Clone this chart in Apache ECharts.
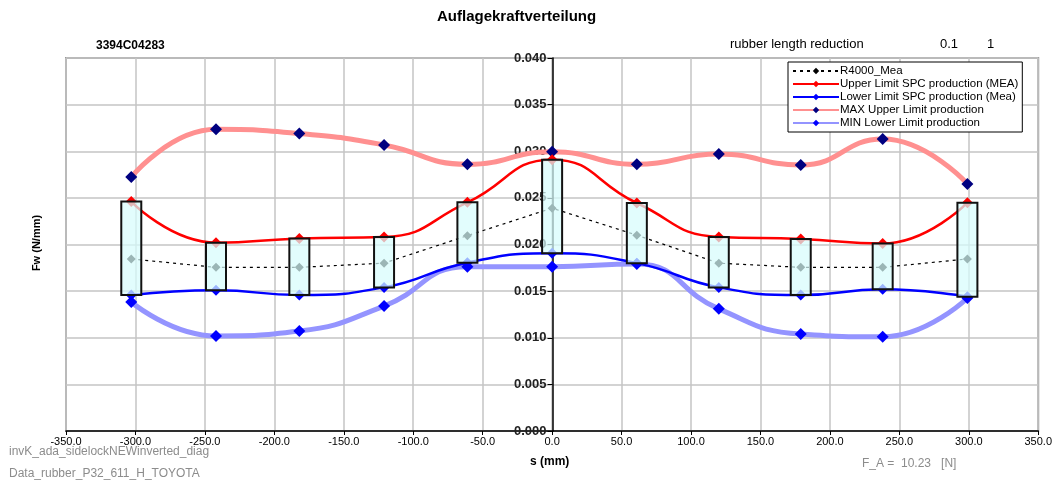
<!DOCTYPE html>
<html>
<head>
<meta charset="utf-8">
<script src="https://cdn.jsdelivr.net/npm/echarts@6/dist/echarts.min.js"></script>
<style>
  html, body { margin: 0; padding: 0; background: #fff; }
  #chart { width: 1055px; height: 483px; }
</style>
</head>
<body>
<div id="chart"></div>
<script>
// positions along the rubber (mm)
const sPos = [-303, -242, -182, -121, -61, 0, 61, 120, 179, 238, 299];

// series values (N/mm)
const r4000Mea = [0.01845, 0.01755, 0.01755, 0.0180, 0.02095, 0.0239, 0.0210, 0.0180, 0.01755, 0.01755, 0.01845];
const upperSpc = [0.0246, 0.0202, 0.02065, 0.0208, 0.02452, 0.0291, 0.02445, 0.0208, 0.0206, 0.0201, 0.02448];
const lowerSpc = [0.01458, 0.0151, 0.01458, 0.0154, 0.01805, 0.01905, 0.0180, 0.0154, 0.01458, 0.0152, 0.0144];
const maxUpper = [0.02724, 0.03235, 0.0319, 0.03067, 0.0286, 0.02995, 0.0286, 0.0297, 0.02853, 0.03131, 0.0265];
const minLower = [0.01383, 0.01019, 0.01072, 0.0134, 0.01762, 0.01762, 0.0179, 0.0131, 0.0104, 0.0101, 0.01426];

const seriesNames = [
    'R4000_Mea',
    'Upper Limit SPC production (MEA)',
    'Lower Limit SPC production (Mea)',
    'MAX Upper Limit production',
    'MIN Lower Limit production'
];

const pairs = (vals) => sPos.map((s, i) => [s, vals[i]]);
const boxData = sPos.map((s, i) => [s, lowerSpc[i], upperSpc[i]]);

const chart = echarts.init(document.getElementById('chart'));

const font = 'Liberation Sans, Arial, sans-serif';

// plot area
const gridLeft = 66, gridRight = 16;
const gridWidth = 1055 - gridLeft - gridRight;

let option = {
    animation: false,
    textStyle: { fontFamily: font },
    grid: {
        left: gridLeft, right: gridRight, top: 58, bottom: 52,
        show: true,
        borderColor: '#9a9a9a',
        borderWidth: 2
    },
    legend: {
        orient: 'vertical',
        left: 788,
        top: 62,
        width: 234,
        itemWidth: 46,
        itemHeight: 8,
        itemGap: 1,
        padding: [3, 4, 3, 4],
        backgroundColor: '#fff',
        borderColor: '#000',
        borderWidth: 1,
        borderRadius: 0,
        textStyle: { fontSize: 11.5, color: '#000', fontFamily: font, padding: [0, 0, 0, -4] },
        data: seriesNames
    },
    xAxis: {
        type: 'value',
        min: -350,
        max: 350,
        interval: 50,
        axisLine: { onZero: false, lineStyle: { color: '#000', width: 1.5 } },
        axisTick: { show: true, length: 4, lineStyle: { color: '#000' } },
        axisLabel: {
            formatter: (v) => v.toFixed(1),
            fontSize: 11,
            color: '#000',
            margin: 5
        },
        splitLine: { show: true, lineStyle: { color: '#c4c4c4', width: 1.5 } }
    },
    yAxis: {
        type: 'value',
        min: 0,
        max: 0.04,
        interval: 0.005,
        position: 'left',
        // move the axis to s = 0 (middle of the plot)
        offset: -gridWidth / 2,
        axisLine: { onZero: false, lineStyle: { color: '#000', width: 1.5 } },
        axisTick: { show: true, length: 5, lineStyle: { color: '#000' } },
        axisLabel: {
            formatter: (v) => v.toFixed(3),
            fontSize: 13,
            fontWeight: 'bold',
            color: '#222',
            margin: 6
        },
        splitLine: { show: true, lineStyle: { color: '#c4c4c4', width: 1.5 } }
    },
    series: [
        {
            name: seriesNames[3],
            type: 'line',
            smooth: 0.5,
            data: pairs(maxUpper),
            symbol: 'diamond',
            symbolSize: 12,
            itemStyle: { color: '#000080' },
            lineStyle: { color: '#ff9090', width: 5 },
            z: 2
        },
        {
            name: seriesNames[4],
            type: 'line',
            smooth: 0.5,
            data: pairs(minLower),
            symbol: 'diamond',
            symbolSize: 12,
            itemStyle: { color: '#0000ff' },
            lineStyle: { color: '#9494ff', width: 5 },
            z: 2
        },
        {
            name: seriesNames[1],
            type: 'line',
            smooth: 0.5,
            data: pairs(upperSpc),
            symbol: 'diamond',
            symbolSize: 11,
            itemStyle: { color: '#ff0000' },
            lineStyle: { color: '#ff0000', width: 2.5 },
            z: 3
        },
        {
            name: seriesNames[2],
            type: 'line',
            smooth: 0.5,
            data: pairs(lowerSpc),
            symbol: 'diamond',
            symbolSize: 11,
            itemStyle: { color: '#0000ff' },
            lineStyle: { color: '#0000ff', width: 2.5 },
            z: 3
        },
        {
            name: seriesNames[0],
            type: 'line',
            data: pairs(r4000Mea),
            symbol: 'diamond',
            symbolSize: 9,
            itemStyle: { color: '#000' },
            lineStyle: { color: '#000', width: 1.2, type: [3, 4] },
            z: 3
        },
        {
            // SPC boxes between lower and upper limits
            type: 'custom',
            data: boxData,
            encode: { x: 0, y: [1, 2] },
            z: 5,
            renderItem: (params, api) => {
                const top = api.coord([api.value(0), api.value(2)]);
                const bot = api.coord([api.value(0), api.value(1)]);
                return {
                    type: 'rect',
                    shape: { x: top[0] - 10, y: top[1], width: 20, height: bot[1] - top[1] },
                    style: { fill: 'rgba(215,252,252,0.72)', stroke: '#111', lineWidth: 2 }
                };
            }
        }
    ],
    graphic: [
        { type: 'text', left: 437, top: 9, style: { text: 'Auflagekraftverteilung', font: 'bold 15px ' + font, fill: '#000' } },
        { type: 'text', left: 96, top: 40, style: { text: '3394C04283', font: 'bold 12px ' + font, fill: '#000' } },
        { type: 'text', left: 730, top: 38, style: { text: 'rubber length reduction', font: '13px ' + font, fill: '#000' } },
        { type: 'text', left: 940, top: 38, style: { text: '0.1', font: '13px ' + font, fill: '#000' } },
        { type: 'text', left: 987, top: 38, style: { text: '1', font: '13px ' + font, fill: '#000' } },
        { type: 'text', x: 37, y: 243, rotation: Math.PI / 2, style: { text: 'Fw (N/mm)', font: 'bold 11px ' + font, fill: '#000', align: 'center', verticalAlign: 'middle' } },
        { type: 'text', left: 530, top: 456, style: { text: 's (mm)', font: 'bold 12px ' + font, fill: '#000' } },
        { type: 'text', left: 9, top: 446, style: { text: 'invK_ada_sidelockNEWinverted_diag', font: '12px ' + font, fill: '#8c8c8c' } },
        { type: 'text', left: 9, top: 468, style: { text: 'Data_rubber_P32_611_H_TOYOTA', font: '12px ' + font, fill: '#8c8c8c' } },
        { type: 'text', left: 862, top: 458, style: { text: 'F_A =  10.23   [N]', font: '12px ' + font, fill: '#8c8c8c' } }
    ]
};

chart.setOption(option);
window.addEventListener('resize', () => { chart.resize(); });
</script>
</body>
</html>
